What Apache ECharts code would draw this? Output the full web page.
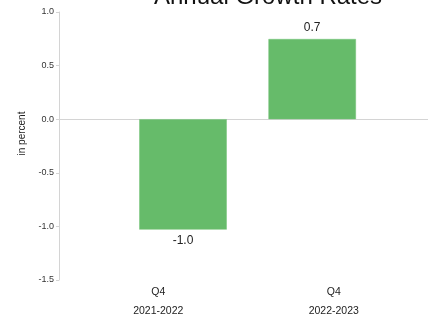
<!DOCTYPE html>
<html>
<head>
<meta charset="utf-8">
<script src="https://cdn.jsdelivr.net/npm/echarts@6/dist/echarts.min.js"></script>
<style>
  html, body { margin: 0; padding: 0; background: #fff; }
  #chart { width: 428px; height: 317px; }
</style>
</head>
<body>
<div id="chart"></div>
<script>
// data
const quarters = ['Q4', 'Q4'];
const periods = ['2021-2022', '2022-2023'];
const growth = [-1.03, 0.748];
const yTicks = { min: -1.5, max: 1.0, step: 0.5 };

const categories = periods.map((p, i) => quarters[i] + '|' + p);
const font = 'Liberation Sans, Arial, sans-serif';
const axisGray = '#d4d4d4';

const chart = echarts.init(document.getElementById('chart'));

chart.setOption({
  animation: false,
  textStyle: { fontFamily: font },
  title: {
    text: 'Annual Growth Rates',
    left: 149,
    top: -20,
    textStyle: { fontSize: 24, fontWeight: 'normal', color: '#111', fontFamily: font }
  },
  grid: [
    { left: 59, right: 0, top: 12, bottom: 37 },      // y axis + zero line
    { left: 118.4, right: 51.2, top: 12, bottom: 37 }, // bars
    { left: 70.5, right: 6.5, top: 12, bottom: 37 }    // category labels
  ],
  xAxis: [
    {
      gridIndex: 0, type: 'category', data: categories,
      axisLine: { show: true, onZero: true, lineStyle: { color: axisGray, width: 1 } },
      axisTick: { show: false }, axisLabel: { show: false }, splitLine: { show: false }
    },
    { gridIndex: 1, type: 'category', data: categories, show: false },
    {
      gridIndex: 2, type: 'category', data: categories,
      axisLine: { show: false, onZero: false }, axisTick: { show: false }, splitLine: { show: false },
      axisLabel: {
        margin: 3.5,
        formatter: v => {
          const parts = v.split('|');
          return '{q|' + parts[0] + '}\n{y|' + parts[1] + '}';
        },
        rich: {
          q: { fontSize: 10.5, color: '#222', lineHeight: 19, fontFamily: font },
          y: { fontSize: 10.5, color: '#222', lineHeight: 19, fontFamily: font }
        }
      }
    }
  ],
  yAxis: [
    {
      gridIndex: 0, type: 'value',
      min: yTicks.min, max: yTicks.max, interval: yTicks.step,
      name: 'in percent', nameLocation: 'middle', nameGap: 31, nameRotate: 90,
      nameTextStyle: { fontSize: 10, color: '#222', fontFamily: font, padding: [0, 0, 0, 25] },
      axisLine: { show: true, lineStyle: { color: axisGray, width: 1 } },
      axisTick: { show: true, length: 3, lineStyle: { color: axisGray } },
      axisLabel: { margin: 5, fontSize: 9, color: '#333', fontFamily: font, formatter: v => v.toFixed(1) },
      splitLine: { show: false }
    },
    { gridIndex: 1, type: 'value', min: yTicks.min, max: yTicks.max, interval: yTicks.step, show: false },
    { gridIndex: 2, type: 'value', min: yTicks.min, max: yTicks.max, interval: yTicks.step, show: false }
  ],
  series: [
    {
      type: 'bar',
      xAxisIndex: 1, yAxisIndex: 1,
      barWidth: 87.5,
      itemStyle: { color: '#66bb6a', borderColor: '#74c378', borderWidth: 0.5 },
      label: {
        show: true, fontSize: 12, color: '#222', fontFamily: font,
        formatter: p => p.value.toFixed(1)
      },
      data: growth.map(v => ({ value: v, label: { position: v < 0 ? 'bottom' : 'top' } }))
    }
  ]
});
</script>
</body>
</html>
